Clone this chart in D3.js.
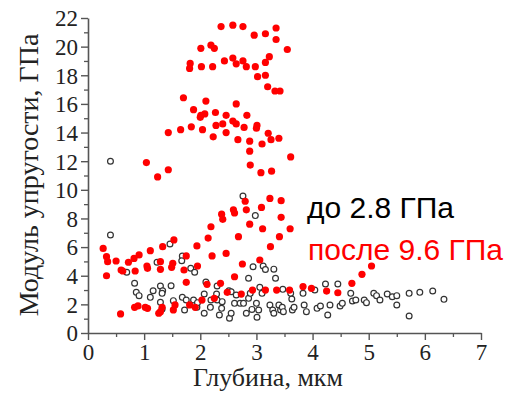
<!DOCTYPE html>
<html><head><meta charset="utf-8">
<script src="https://cdn.jsdelivr.net/npm/d3@7"></script>
<style>body{margin:0;background:#fff}svg{display:block}</style>
</head><body>
<svg id="c" width="509" height="393"></svg>
<script>
const xTicks = [0,1,2,3,4,5,6,7];
const yTicks = [0,2,4,6,8,10,12,14,16,18,20,22];
const xLabel = "Глубина, мкм";
const yLabel = "Модуль упругости, ГПа";
const labelBefore = "до 2.8 ГПа";
const labelAfter = "после 9.6 ГПа";

// "до" (before) – open black circles
const beforeX = [0.40,2.76,2.98,0.40,0.69,0.83,0.86,0.91,1.11,1.16,1.23,1.29,1.33,1.32,1.29,1.32,1.48,1.46,1.52,1.68,1.67,1.68,1.75,1.72,1.83,1.90,1.88,1.94,1.95,2.07,2.07,2.10,2.19,2.29,2.30,2.18,2.30,2.34,2.38,2.39,2.51,2.55,2.52,2.55,2.64,2.61,2.71,2.77,2.82,2.86,2.89,2.94,2.86,2.92,3.00,3.01,3.04,3.06,3.10,3.12,3.16,3.31,3.24,3.29,3.31,3.34,3.40,3.43,3.47,3.61,3.83,4.23,4.45,3.63,4.04,3.46,3.48,3.64,3.67,3.85,3.89,4.08,4.14,4.27,4.31,4.49,4.53,4.71,4.68,4.77,4.92,4.96,5.09,5.14,5.20,5.33,5.42,5.50,5.50,5.72,5.72,5.91,6.14,6.34];
const beforeY = [12.0,9.57,8.2,6.84,4.24,3.47,2.84,2.61,2.49,2.95,4.94,3.28,2.95,2.77,2.14,1.68,3.30,6.22,2.26,5.38,5.05,2.49,2.30,1.61,4.52,4.24,2.30,1.79,2.12,1.38,2.72,3.56,2.30,2.72,2.30,1.79,3.28,1.26,1.72,2.19,2.95,2.88,1.03,1.38,2.65,2.07,2.07,2.07,1.38,2.42,2.77,4.63,3.82,1.65,2.07,1.10,1.61,3.19,2.77,4.68,4.43,4.46,1.96,1.61,1.38,3.82,1.96,1.61,3.05,2.77,2.77,3.42,3.42,2.37,3.0,1.79,1.49,1.61,1.79,1.96,1.49,1.72,1.89,1.26,1.96,1.89,2.07,2.23,2.77,2.30,2.30,2.12,2.77,2.61,2.30,2.72,2.53,2.61,1.96,2.77,1.19,2.84,2.93,2.35];

// "после" (after) – filled red circles
const afterX = [1.81,1.82,2.01,2.02,2.19,2.25,2.22,2.37,2.43,2.58,2.58,2.64,2.76,2.76,2.82,2.96,2.98,3.02,3.16,3.16,3.23,3.16,3.20,3.35,3.35,3.55,3.33,3.42,
1.70,1.88,2.10,2.01,2.08,2.00,2.27,2.46,2.64,2.83,2.28,2.40,2.58,2.64,2.78,3.01,3.00,1.65,1.84,2.04,1.43,2.23,2.46,2.67,2.88,2.88,3.10,3.21,3.26,3.40,2.89,3.08,3.27,3.61,1.04,1.24,1.43,
2.80,3.24,3.44,2.38,2.40,2.59,2.61,2.82,3.09,3.44,2.88,3.11,3.60,2.19,2.14,1.53,2.68,3.41,
0.27,0.33,0.35,0.33,0.50,0.59,0.62,0.72,0.82,0.91,0.84,1.11,1.05,1.06,1.29,1.29,1.33,1.49,1.51,1.75,1.71,1.75,1.94,1.95,2.21,2.12,2.46,2.36,2.75,2.61,3.06,3.25,4.70,4.88,5.05,
0.58,0.83,0.89,1.02,1.06,1.26,1.29,1.32,1.52,1.55,1.81,1.91,2.03,2.25,2.48,2.73,2.93,3.16,3.36,3.59,3.83,3.98,4.25,4.45];
const afterY = [18.48,18.83,19.88,18.6,20.1,19.88,18.6,21.4,19.0,21.5,19.2,18.8,21.4,19.0,18.6,20.8,18.6,17.9,20.9,18.9,19.3,18.0,17.2,21.3,20.5,19.8,16.9,16.9,
16.43,15.6,16.2,15.2,15.3,15.06,15.4,15.2,16.0,15.2,14.5,14.6,14.8,14.6,14.36,14.5,14.3,14.2,14.4,14.2,14.0,13.7,14.0,13.5,13.4,12.7,13.2,13.95,13.5,13.6,11.73,11.2,11.3,12.3,11.9,10.9,11.4,
9.2,9.4,9.24,8.3,7.94,8.6,8.38,8.6,8.77,8.08,7.6,7.28,7.28,7.42,6.63,6.5,6.73,6.73,
5.91,5.33,4.98,4.0,5.03,4.40,4.33,4.94,5.21,5.45,4.33,5.75,4.68,4.52,4.98,4.45,6.03,4.59,4.87,5.38,4.40,3.54,6.08,4.68,5.38,3.40,5.56,3.47,4.82,3.93,5.10,6.03,3.47,4.10,4.68,
1.33,1.79,1.89,1.79,1.72,1.38,1.49,1.79,1.61,1.96,1.96,1.79,2.30,2.42,2.84,2.72,3.0,3.0,3.0,3.0,3.24,3.12,2.93,2.81];

const svg = d3.select("#c");
const x = d3.scaleLinear().domain([0,7]).range([88,481]);
const y = d3.scaleLinear().domain([0,22]).range([333,18]);
const axisColor = "#555";

// minor ticks
const gxm = svg.append("g").attr("transform","translate(0,333)")
  .call(d3.axisBottom(x).tickValues(d3.range(0.5,7,1)).tickSize(4).tickFormat(""));
const gym = svg.append("g").attr("transform","translate(88,0)")
  .call(d3.axisLeft(y).tickValues(d3.range(1,22,2)).tickSize(4).tickFormat(""));
[gxm,gym].forEach(g=>{g.select(".domain").remove();g.selectAll("line").attr("stroke",axisColor).attr("stroke-width",1.3);});

const gx = svg.append("g").attr("transform","translate(0,333)")
  .call(d3.axisBottom(x).tickValues(xTicks).tickSize(7).tickPadding(4).tickSizeOuter(0).tickFormat(d3.format("d")));
const gy = svg.append("g").attr("transform","translate(88,0)")
  .call(d3.axisLeft(y).tickValues(yTicks).tickSize(7).tickPadding(3).tickSizeOuter(0).tickFormat(d3.format("d")));
[gx,gy].forEach(g=>{
  g.select(".domain").attr("stroke",axisColor).attr("stroke-width",1.6);
  g.selectAll("line").attr("stroke",axisColor).attr("stroke-width",1.4);
  g.selectAll("text").attr("fill","#222").style("font-family","'Liberation Serif','Times New Roman',serif").style("font-size","23px");
});
gy.selectAll("text").attr("dy","0.34em");

// points
const before = beforeX.map((v,i)=>({x:v,y:beforeY[i]}));
const after = afterX.map((v,i)=>({x:v,y:afterY[i]}));
svg.append("g").selectAll("circle").data(before).join("circle")
  .attr("cx",d=>x(d.x)).attr("cy",d=>y(d.y)).attr("r",2.9)
  .attr("fill","#fff").attr("stroke","#333").attr("stroke-width",1.2);
svg.append("g").selectAll("circle").data(after).join("circle")
  .attr("cx",d=>x(d.x)).attr("cy",d=>y(d.y)).attr("r",3.6)
  .attr("fill","#ff0000");

// axis titles
svg.append("text").attr("x",268).attr("y",386).attr("text-anchor","middle")
  .style("font-family","'Liberation Serif','Times New Roman',serif").style("font-size","26px").attr("fill","#222")
  .text(xLabel);
svg.append("text").attr("transform","translate(38,175) rotate(-90)").attr("text-anchor","middle")
  .style("font-family","'Liberation Serif','Times New Roman',serif").style("font-size","28px").attr("fill","#222")
  .text(yLabel);

// annotations
svg.append("text").attr("x",307).attr("y",218)
  .style("font-family","'Liberation Sans',Arial,sans-serif").style("font-size","30px").attr("fill","#000")
  .text(labelBefore);
svg.append("text").attr("x",308).attr("y",260)
  .style("font-family","'Liberation Sans',Arial,sans-serif").style("font-size","30px").attr("fill","#ff0000")
  .text(labelAfter);
</script>
</body></html>
